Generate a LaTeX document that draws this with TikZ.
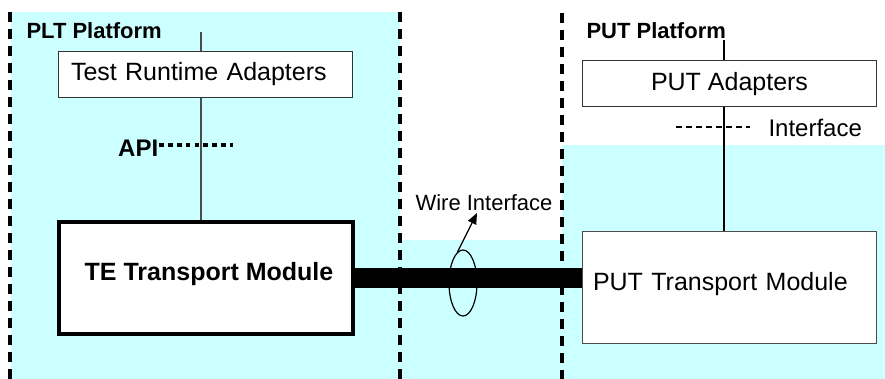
\documentclass[tikz,border=0pt]{standalone}
\usepackage{fontspec}
\setmainfont{Liberation Sans}
\usetikzlibrary{arrows.meta,shapes.geometric}
\definecolor{platformcyan}{RGB}{204,255,255}

\begin{document}
\begin{tikzpicture}[x=1pt, y=-1pt,
    boundary/.style={line width=3.4pt, dash pattern=on 10pt off 7pt},
    adapter/.style={draw=black!80, line width=1.2pt, fill=white, minimum width=294pt, minimum height=46pt, inner sep=0pt},
    module/.style={draw=black!70, line width=1.2pt, fill=white, minimum width=294pt, minimum height=112pt, inner sep=0pt},
    bigtext/.style={font=\fontsize{25}{30}\selectfont},
    boldtext/.style={font=\fontsize{22}{26}\selectfont\bfseries},
    smalltext/.style={font=\fontsize{22}{26}\selectfont}]
    \useasboundingbox (0,0) rectangle (885,379);
    \fill[white] (0,0) rectangle (885,379);

    \fill[platformcyan] (11,12) rectangle (400,379);
    \fill[platformcyan] (400,240) rectangle (562,379);
    \fill[platformcyan] (562,145) rectangle (885,379);

    \draw[boundary] (10,12) -- (10,379);
    \draw[boundary] (400,12) -- (400,379);
    \draw[boundary] (562,13) -- (562,379);

    \node[boldtext, anchor=base west] (plt) at (23,39) {PLT Platform};
    \node[boldtext, anchor=base west] (put) at (583,39) {PUT Platform};

    \node[adapter, bigtext, text width=269pt, align=left, inner xsep=12.5pt, text height=18pt, text depth=5pt] (tra) at (205.5,74.5) {Test Runtime Adapters};
    \node[module, draw=black, line width=4pt, font=\fontsize{25}{30}\selectfont\bfseries, text height=18pt, text depth=14pt] (te) at (206,278) {\hspace*{6pt}TE Transport Module};

    \node[adapter, bigtext, text height=19pt, text depth=4pt] (puta) at (729.5,83.5) {PUT Adapters};
    \node[module, bigtext, text width=273pt, align=left, inner xsep=10.5pt, text height=18pt, text depth=13pt] (putt) at (729.5,287.5) {PUT Transport Module};

    \coordinate (plt-top) at (201,32);
    \draw[black!70, line width=1.3pt] (plt-top) -- (plt-top |- tra.north);
    \draw[black!70, line width=1.3pt] (plt-top |- tra.south) -- (plt-top |- te.north);

    \coordinate (put-top) at (724,40);
    \draw[line width=1.2pt] (put-top) -- (put-top |- puta.north);
    \draw[line width=1.2pt] (put-top |- puta.south) -- (put-top |- putt.north);

    \node[font=\fontsize{24}{28}\selectfont\bfseries, anchor=base west, inner xsep=1pt] (api) at (117,157) {API};
    \coordinate (api-end) at (233,145.5);
    \draw[line width=4pt, dash pattern=on 4.5pt off 4.3pt] (api-end -| api.east) -- (api-end);

    \coordinate (ifc-start) at (676,127);
    \coordinate (ifc-end) at (750,127);
    \draw[line width=1.3pt, dash pattern=on 6pt off 4pt] (ifc-start) -- (ifc-end);
    \node[font=\fontsize{24}{28}\selectfont, anchor=base west] (ifc) at (765,137) {Interface};

    \draw[line width=20pt] (te.east) -- (te.east -| putt.west);

    \node[draw, ellipse, line width=1.2pt, minimum width=28pt, minimum height=66pt, inner sep=0pt] (wire) at (463,283) {};
    \node[smalltext, anchor=base west] (wirelabel) at (412,211) {Wire Interface};
    \coordinate (wire-tip) at (477,213);
    \draw[line width=1.2pt, -{Triangle[length=11pt, width=9pt]}] (wire.100) -- (wire-tip);
\end{tikzpicture}
\end{document}
